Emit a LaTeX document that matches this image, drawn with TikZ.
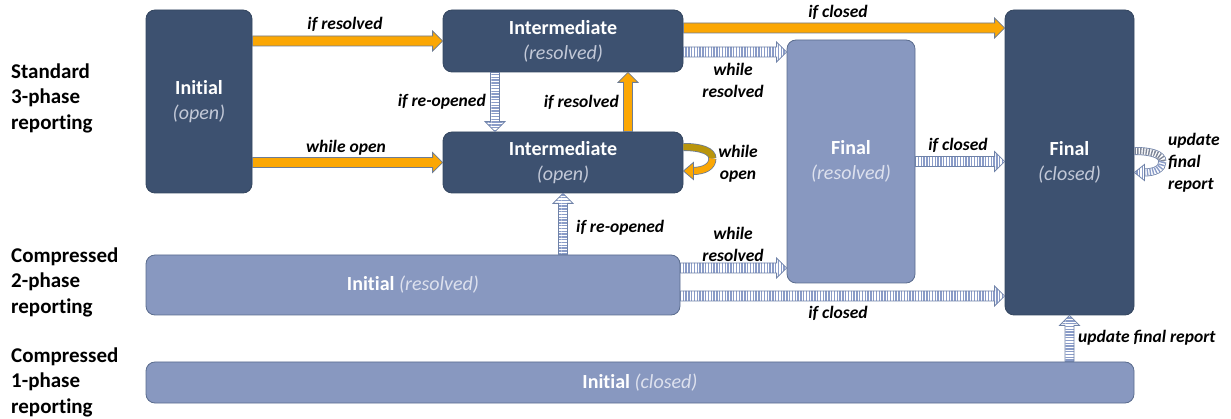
\documentclass[tikz,border=0pt]{standalone}
\usepackage{fontspec}
\setmainfont{Carlito}
\newfontfamily\plainfont{Carlito}[Ligatures=NoCommon]
\usetikzlibrary{calc,patterns.meta}

\definecolor{boxdark}{HTML}{3D5170}
\definecolor{boxdarkedge}{HTML}{34465F}
\definecolor{boxlight}{HTML}{8898C0}
\definecolor{boxlightedge}{HTML}{5A6C8E}
\definecolor{subdark}{HTML}{C3C9D8}
\definecolor{sublight}{HTML}{DDE1EE}
\definecolor{arrorange}{HTML}{FBA704}
\definecolor{arredge}{HTML}{6C7C95}
\definecolor{loopback}{HTML}{B9950C}
\definecolor{stripe}{HTML}{8A9CC8}
\definecolor{stripeback}{HTML}{7F8799}
\definecolor{stripeedge}{HTML}{6F82A8}

% state subtitles
\newcommand\subd[1]{{\mdseries\itshape\color{subdark}#1}}
\newcommand\subl[1]{{\mdseries\itshape\color{sublight}#1}}

% block arrows: #1 style, #2 start point, #3 end point
\newcommand\harrow[3]{%
  \path[#1] let \p1=(#2), \p2=(#3) in
    (\x1,\y1+5pt) -- (\x2-10pt,\y1+5pt) -- (\x2-10pt,\y1+10pt) -- (\x2,\y1)
    -- (\x2-10pt,\y1-10pt) -- (\x2-10pt,\y1-5pt) -- (\x1,\y1-5pt) -- cycle;}
\newcommand\uarrow[3]{%
  \path[#1] let \p1=(#2), \p2=(#3) in
    (\x1-4.5pt,\y1) -- (\x1-4.5pt,\y2-10pt) -- (\x1-10pt,\y2-10pt) -- (\x1,\y2)
    -- (\x1+10pt,\y2-10pt) -- (\x1+4.5pt,\y2-10pt) -- (\x1+4.5pt,\y1) -- cycle;}
\newcommand\darrow[3]{%
  \path[#1] let \p1=(#2), \p2=(#3) in
    (\x1-4.5pt,\y1) -- (\x1-4.5pt,\y2+10pt) -- (\x1-10pt,\y2+10pt) -- (\x1,\y2)
    -- (\x1+10pt,\y2+10pt) -- (\x1+4.5pt,\y2+10pt) -- (\x1+4.5pt,\y1) -- cycle;}

\begin{document}
\begin{tikzpicture}[x=1pt,y=-1pt,
  state/.style={rounded corners=9pt, line width=0.8pt, align=center,
    inner sep=0pt, text=white, font=\plainfont\fontsize{20}{25}\selectfont\bfseries},
  dark/.style={state, fill=boxdark, draw=boxdarkedge},
  light/.style={state, fill=boxlight, draw=boxlightedge},
  side/.style={font=\plainfont\fontsize{21}{25.5}\selectfont\bfseries, align=left,
    anchor=west, inner sep=0pt},
  lbl/.style={font=\fontsize{17.5}{22}\selectfont\bfseries\itshape,
    align=center, inner sep=0pt},
  orangearr/.style={fill=arrorange, draw=arredge, line width=0.8pt},
  stripeh/.style={preaction={fill=white},
    pattern={Lines[angle=90,distance=2.8pt,line width=1.4pt]},
    pattern color=stripe, draw=stripeedge, line width=0.8pt},
  stripev/.style={preaction={fill=white},
    pattern={Lines[angle=0,distance=2.8pt,line width=1.4pt]},
    pattern color=stripe, draw=stripeedge, line width=0.8pt},
  orangeband/.style={preaction={draw=arredge, line width=8pt},
    draw=#1, line width=6.4pt},
  stripeband/.style={preaction={draw=stripeedge, line width=8pt, solid},
    preaction={draw=white, line width=6.4pt, solid},
    draw=#1, line width=6.4pt, dash pattern=on 1.4pt off 1.4pt},
]
\useasboundingbox (0,0) rectangle (1231,419);

% row titles
\node[side] (std)  at (11,98)  {Standard\\3-phase\\reporting};
\node[side] (cmp2) at (11,282) {Compressed\\2-phase\\reporting};
\node[side] (cmp1) at (11,382) {Compressed\\1-phase\\reporting};

% states
\node[dark, minimum width=106pt, minimum height=183pt] (iniO) at (199,101.5)
  {Initial\\\subd{(open)}};
\node[dark, minimum width=240pt, minimum height=62pt] (intR) at (563,41)
  {Intermediate\\\subd{(resolved)}};
\node[dark, minimum width=240pt, minimum height=61pt] (intO) at (563,162.5)
  {Intermediate\\\subd{(open)}};
\node[light, minimum width=128pt, minimum height=243pt] (finR) at (851,161.5)
  {Final\\\subl{(resolved)}};
\node[dark, minimum width=129pt, minimum height=305pt] (finC) at (1069.5,162.5)
  {Final\\\subd{(closed)}};
\node[light, minimum width=534pt, minimum height=60pt] (iniR) at (413,285)
  {Initial \subl{(resolved)}};
\node[light, minimum width=988pt, minimum height=41pt] (iniC) at (640,382.5)
  {Initial \subl{(closed)}};

% transitions
\harrow{orangearr}{iniO.east |- intR.west}{intR.west}
\harrow{orangearr}{iniO.east |- intO.west}{intO.west}
\harrow{orangearr}{[yshift=13pt]intR.east}{finC.west}
\harrow{stripeh}{[yshift=-11pt]intR.east}{finR.west}
\darrow{stripev}{[xshift=-68pt]intR.south}{intO.north}
\uarrow{orangearr}{[xshift=65pt]intO.north}{intR.south}
\uarrow{stripev}{intO.south |- iniR.north}{intO.south}
\harrow{stripeh}{finR.east}{finC.west}
\harrow{stripeh}{[yshift=17pt]iniR.east}{finR.west}
\harrow{stripeh}{[yshift=-11pt]iniR.east}{finC.west}
\uarrow{stripev}{finC.south |- iniC.north}{finC.south}

% self loops
\begin{scope}[shift={(intO.east)}]
  \draw[orangeband=loopback] (0,-15.5) .. controls (19,-15.5) and (29,-11) .. (29,-4);
  \draw[orangeband=arrorange] (29,-4) .. controls (29,4) and (21,8.5) .. (9,8.5);
  \path[orangearr] (10,0) -- (0,8.5) -- (10,17) -- cycle;
\end{scope}
\begin{scope}[shift={(finC.east)}]
  \draw[stripeband=stripeback] (0,-11.5) .. controls (17,-11.5) and (28,-8) .. (28,-1);
  \draw[stripeband=stripe] (28,-1) .. controls (28,6) and (21,10) .. (9,10);
  \path[stripeh] (10,2) -- (0,10) -- (10,18) -- cycle;
\end{scope}

% transition labels
\node[lbl] (l1)  at (345,24)  {if resolved};
\node[lbl] (l2)  at (346,148) {while open};
\node[lbl] (l3)  at (838,12)  {if closed};
\node[lbl] (l4)  at (733,80)  {while\\resolved};
\node[lbl, anchor=east] (l5) at (486,102) {if re-opened};
\node[lbl, anchor=east] (l6) at (619,102) {if resolved};
\node[lbl] (l7)  at (738,164) {while\\open};
\node[lbl, anchor=west] (l8) at (576,228) {if re-opened};
\node[lbl] (l9)  at (958,145) {if closed};
\node[lbl] (l10) at (733,244) {while\\resolved};
\node[lbl] (l11) at (838,313) {if closed};
\node[lbl, anchor=west] (l12) at (1078,338) {update final report};
\node[lbl, align=left, anchor=west] (l13) at (1168,163) {update\\final\\report};
\end{tikzpicture}
\end{document}
